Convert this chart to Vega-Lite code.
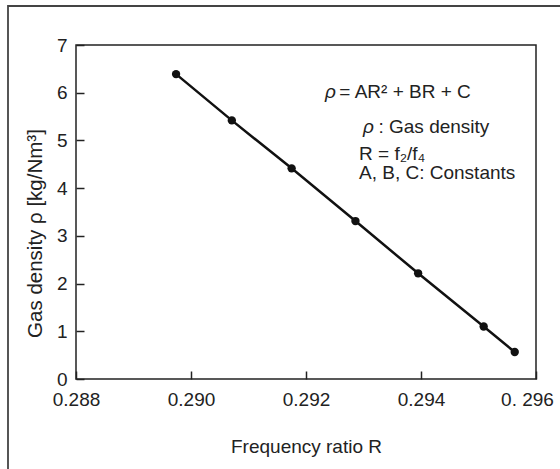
{
  "$schema": "https://vega.github.io/schema/vega-lite/v6.json",
  "autosize": "none",
  "width": 460,
  "height": 334,
  "padding": {"left": 76, "top": 45, "right": 24, "bottom": 90},
  "background": "white",
  "config": {
    "font": "Liberation Sans",
    "view": {"stroke": "#222", "strokeWidth": 1.5},
    "axis": {
      "grid": false,
      "domain": false,
      "offset": -8,
      "labelFlush": false,
      "labelOverlap": false,
      "tickColor": "#222",
      "tickWidth": 1.5,
      "tickSize": 8,
      "labelFont": "Liberation Sans",
      "labelFontSize": 19,
      "labelColor": "#222",
      "titleFont": "Liberation Sans",
      "titleFontSize": 19,
      "titleFontWeight": "normal",
      "titleColor": "#222"
    }
  },
  "datasets": {
    "points": [
      {"R": 0.28974, "rho": 6.39},
      {"R": 0.29071, "rho": 5.42},
      {"R": 0.29175, "rho": 4.415},
      {"R": 0.29286, "rho": 3.31},
      {"R": 0.29395, "rho": 2.215},
      {"R": 0.29509, "rho": 1.10},
      {"R": 0.29563, "rho": 0.565}
    ],
    "italic": [
      {"R": 0.29233, "rho": 5.89, "t": "ρ"},
      {"R": 0.29299, "rho": 5.16, "t": "ρ"}
    ],
    "notes": [
      {"R": 0.29258, "rho": 5.89, "t": "= AR² + BR + C"},
      {"R": 0.29326, "rho": 5.16, "t": ": Gas density"},
      {"R": 0.292922, "rho": 4.59, "t": "R = f₂/f₄"},
      {"R": 0.292922, "rho": 4.19, "t": "A, B, C: Constants"}
    ]
  },
  "layer": [
    {
      "data": {"values": [{}]},
      "mark": {"type": "rect", "fill": null, "fillOpacity": 0, "stroke": "#444", "strokeWidth": 1.8, "clip": false},
      "encoding": {
        "x": {"datum": 0.2868174, "type": "quantitative"},
        "x2": {"datum": 0.2985},
        "y": {"datum": 7.817, "type": "quantitative"},
        "y2": {"datum": -2.5}
      }
    },
    {
      "data": {"name": "points"},
      "mark": {"type": "line", "color": "#111", "strokeWidth": 2.5},
      "encoding": {
        "x": {
          "field": "R", "type": "quantitative",
          "scale": {"domain": [0.288, 0.296], "nice": false, "zero": false},
          "axis": {
            "title": "Frequency ratio R",
            "values": [0.288, 0.290, 0.292, 0.294, 0.296],
            "labelExpr": "datum.value > 0.2955 ? '0. 296' : format(datum.value, '.3f')",
            "labelOffset": {"condition": {"test": "datum.value > 0.2955", "value": -9}, "value": 0},
            "labelPadding": 11,
            "titlePadding": 28
          }
        },
        "y": {
          "field": "rho", "type": "quantitative",
          "scale": {"domain": [0, 7], "nice": false},
          "axis": {
            "title": "Gas density ρ [kg/Nm³]",
            "titleFontSize": 20.5,
            "values": [0, 1, 2, 3, 4, 5, 6, 7],
            "format": "d",
            "labelPadding": 9,
            "titlePadding": 11,
            "titleY": 188
          }
        }
      }
    },
    {
      "data": {"name": "points"},
      "mark": {"type": "point", "filled": true, "color": "#111", "opacity": 1, "size": 70},
      "encoding": {
        "x": {"field": "R", "type": "quantitative"},
        "y": {"field": "rho", "type": "quantitative"}
      }
    },
    {
      "data": {"name": "italic"},
      "mark": {"type": "text", "align": "left", "baseline": "alphabetic", "fontSize": 19, "fontStyle": "italic", "color": "#222"},
      "encoding": {
        "x": {"field": "R", "type": "quantitative"},
        "y": {"field": "rho", "type": "quantitative"},
        "text": {"field": "t"}
      }
    },
    {
      "data": {"name": "notes"},
      "mark": {"type": "text", "align": "left", "baseline": "alphabetic", "fontSize": 19, "color": "#222"},
      "encoding": {
        "x": {"field": "R", "type": "quantitative"},
        "y": {"field": "rho", "type": "quantitative"},
        "text": {"field": "t"}
      }
    }
  ]
}
